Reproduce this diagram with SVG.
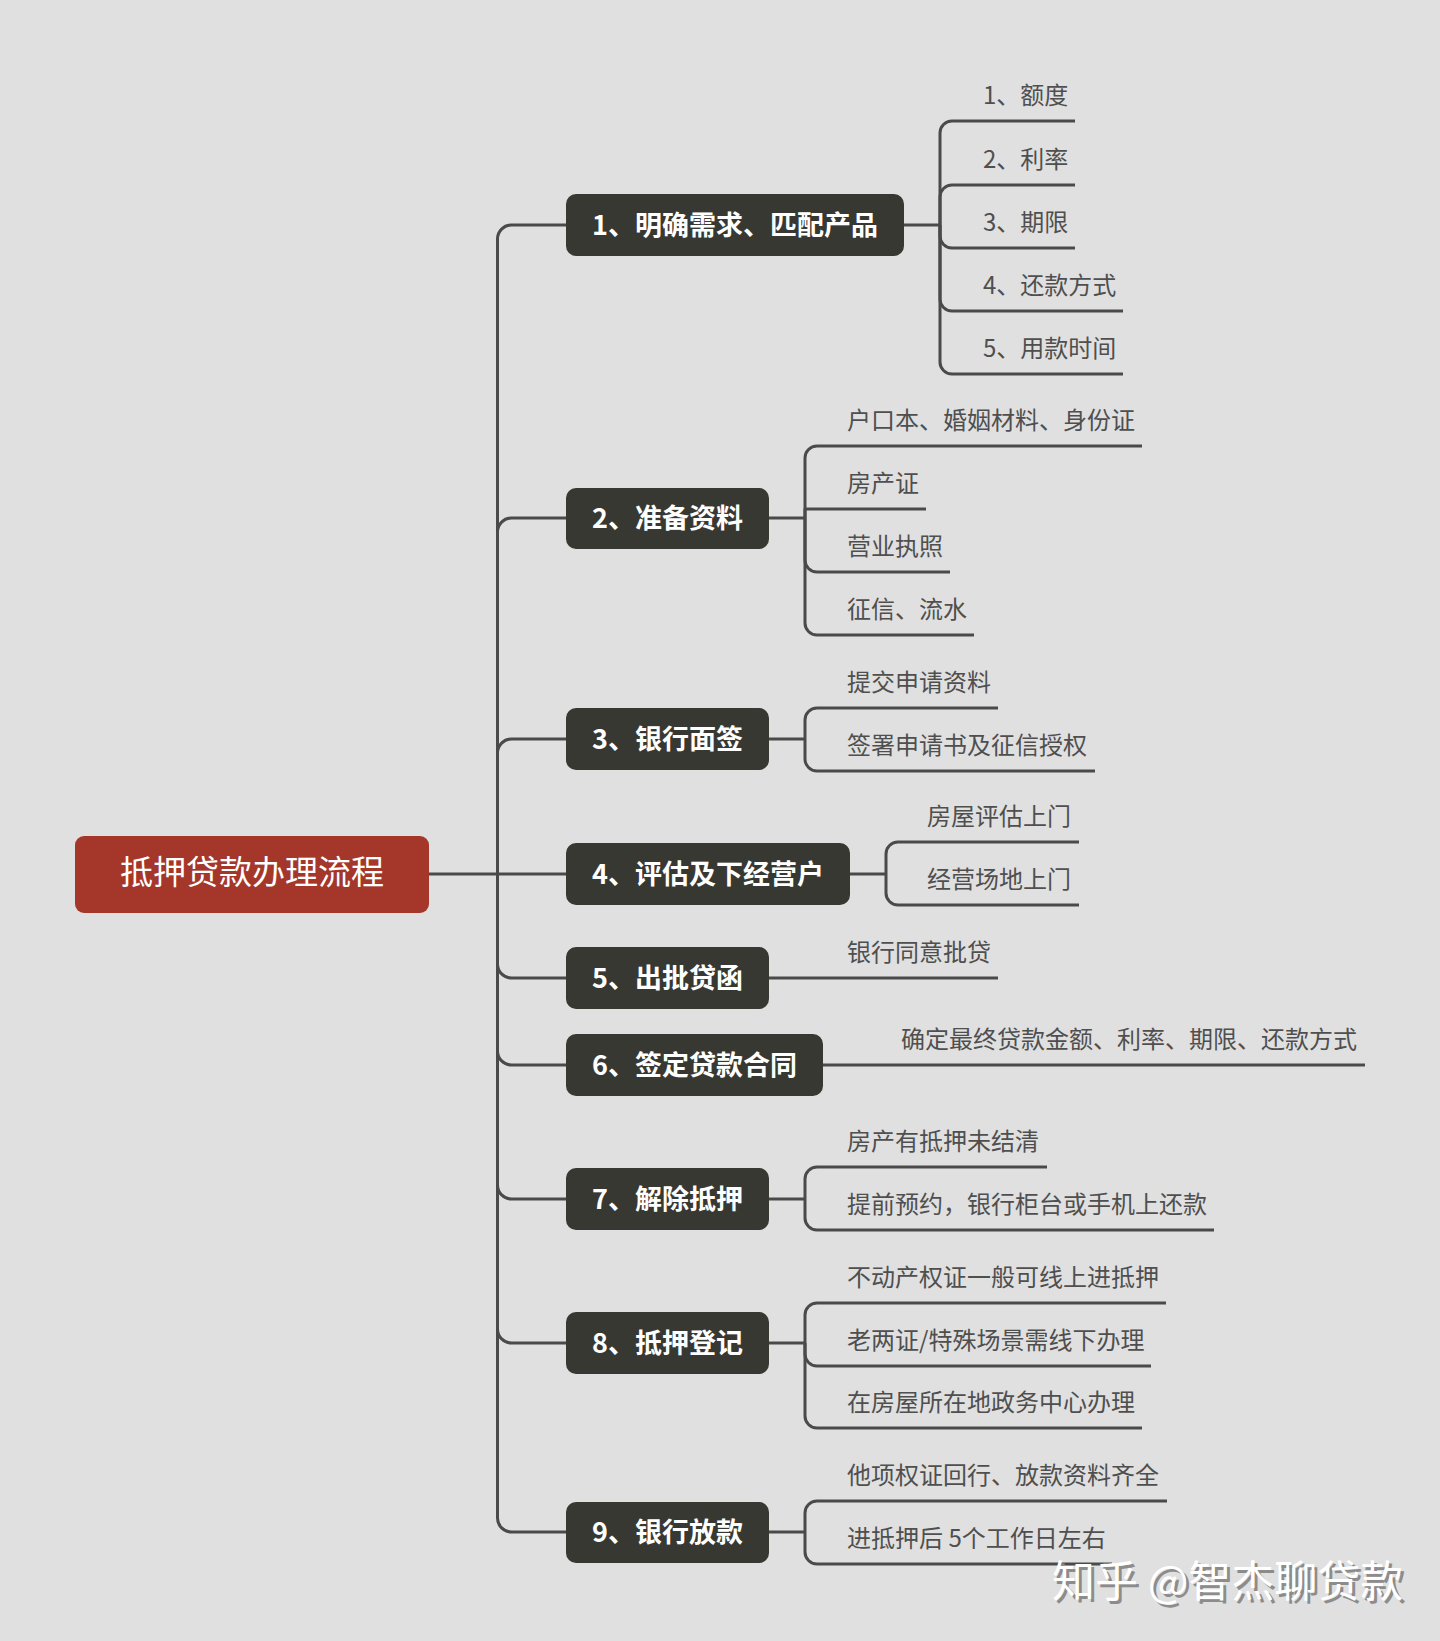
<svg xmlns="http://www.w3.org/2000/svg" width="1440" height="1641" viewBox="0 0 1440 1641">
<style>
.ln{fill:none;stroke:#4a4a4a;stroke-width:3;stroke-linecap:butt;stroke-linejoin:round}
.nd{fill:#383833}
.nt{font-family:"Noto Sans CJK SC","Noto Sans",sans-serif;font-size:27px;font-weight:700;fill:#ffffff;text-anchor:middle}
.ct{font-family:"Noto Sans CJK SC","Noto Sans",sans-serif;font-size:24px;fill:#4f4f4f}
.wm{font-family:"Noto Sans CJK SC","Noto Sans",sans-serif;font-size:43px}
</style>
<rect width="1440" height="1641" fill="#e0e0e0"/>
<g id="connectors">
<path class="ln" d="M429 874 H566"/>
<path class="ln" d="M566 225 H511.5 A14 14 0 0 0 497.5 239 V1518 A14 14 0 0 0 511.5 1532 H566"/>
<path class="ln" d="M497.5 532 A14 14 0 0 1 511.5 518 H566"/>
<path class="ln" d="M497.5 753 A14 14 0 0 1 511.5 739 H566"/>
<path class="ln" d="M497.5 964 A14 14 0 0 0 511.5 978 H566"/>
<path class="ln" d="M497.5 1051 A14 14 0 0 0 511.5 1065 H566"/>
<path class="ln" d="M497.5 1185 A14 14 0 0 0 511.5 1199 H566"/>
<path class="ln" d="M497.5 1329 A14 14 0 0 0 511.5 1343 H566"/>
<!-- node 1 children -->
<path class="ln" d="M904 225 H940"/>
<path class="ln" d="M940 225 V133 A12 12 0 0 1 952 121 H1075"/>
<path class="ln" d="M940 225 V197 A12 12 0 0 1 952 185 H1075"/>
<path class="ln" d="M940 225 V236 A12 12 0 0 0 952 248 H1075"/>
<path class="ln" d="M940 225 V299 A12 12 0 0 0 952 311 H1123"/>
<path class="ln" d="M940 225 V362 A12 12 0 0 0 952 374 H1123"/>
<!-- node 2 children -->
<path class="ln" d="M769 518 H805"/>
<path class="ln" d="M805 518 V458 A12 12 0 0 1 817 446 H1142"/>
<path class="ln" d="M805 518 V509 H926"/>
<path class="ln" d="M805 518 V560 A12 12 0 0 0 817 572 H950"/>
<path class="ln" d="M805 518 V623 A12 12 0 0 0 817 635 H974"/>
<!-- node 3 children -->
<path class="ln" d="M769 739 H805"/>
<path class="ln" d="M805 739 V720 A12 12 0 0 1 817 708 H998"/>
<path class="ln" d="M805 739 V759 A12 12 0 0 0 817 771 H1095"/>
<!-- node 4 children -->
<path class="ln" d="M850 874 H886"/>
<path class="ln" d="M886 874 V854 A12 12 0 0 1 898 842 H1079"/>
<path class="ln" d="M886 874 V893 A12 12 0 0 0 898 905 H1079"/>
<!-- node 5 child -->
<path class="ln" d="M769 978 H998"/>
<!-- node 6 child -->
<path class="ln" d="M823 1065 H1365"/>
<!-- node 7 children -->
<path class="ln" d="M769 1199 H805"/>
<path class="ln" d="M805 1199 V1179 A12 12 0 0 1 817 1167 H1047"/>
<path class="ln" d="M805 1199 V1218 A12 12 0 0 0 817 1230 H1214"/>
<!-- node 8 children -->
<path class="ln" d="M769 1343 H805"/>
<path class="ln" d="M805 1343 V1315 A12 12 0 0 1 817 1303 H1166"/>
<path class="ln" d="M805 1343 V1354 A12 12 0 0 0 817 1366 H1151"/>
<path class="ln" d="M805 1343 V1416 A12 12 0 0 0 817 1428 H1142"/>
<!-- node 9 children -->
<path class="ln" d="M769 1532 H805"/>
<path class="ln" d="M805 1532 V1513 A12 12 0 0 1 817 1501 H1167"/>
<path class="ln" d="M805 1532 V1552 A12 12 0 0 0 817 1564 H1112"/>
</g>
<g id="root">
<rect x="75" y="836" width="354" height="77" rx="9" fill="#a5372a"/>
<text x="252" y="884" font-family="Noto Sans CJK SC, Noto Sans, sans-serif" font-size="33" fill="#ffffff" text-anchor="middle">抵押贷款办理流程</text>
</g>
<g id="n1"><rect class="nd" x="566" y="194" width="338" height="62" rx="10"/><text class="nt" x="735" y="234.5">1、明确需求、匹配产品</text></g>
<g id="n2"><rect class="nd" x="566" y="488" width="203" height="61" rx="10"/><text class="nt" x="667.5" y="527.5">2、准备资料</text></g>
<g id="n3"><rect class="nd" x="566" y="708" width="203" height="62" rx="10"/><text class="nt" x="667.5" y="748.5">3、银行面签</text></g>
<g id="n4"><rect class="nd" x="566" y="843" width="284" height="62" rx="10"/><text class="nt" x="708" y="883.5">4、评估及下经营户</text></g>
<g id="n5"><rect class="nd" x="566" y="947" width="203" height="62" rx="10"/><text class="nt" x="667.5" y="987.5">5、出批贷函</text></g>
<g id="n6"><rect class="nd" x="566" y="1034" width="257" height="62" rx="10"/><text class="nt" x="694.5" y="1074.5">6、签定贷款合同</text></g>
<g id="n7"><rect class="nd" x="566" y="1168" width="203" height="62" rx="10"/><text class="nt" x="667.5" y="1208.5">7、解除抵押</text></g>
<g id="n8"><rect class="nd" x="566" y="1312" width="203" height="62" rx="10"/><text class="nt" x="667.5" y="1352.5">8、抵押登记</text></g>
<g id="n9"><rect class="nd" x="566" y="1502" width="203" height="61" rx="10"/><text class="nt" x="667.5" y="1541.5">9、银行放款</text></g>
<g id="n1-children">
<text class="ct" x="983" y="104">1、额度</text>
<text class="ct" x="983" y="168">2、利率</text>
<text class="ct" x="983" y="231">3、期限</text>
<text class="ct" x="983" y="294">4、还款方式</text>
<text class="ct" x="983" y="357">5、用款时间</text>
</g>
<g id="n2-children">
<text class="ct" x="847" y="429">户口本、婚姻材料、身份证</text>
<text class="ct" x="847" y="492">房产证</text>
<text class="ct" x="847" y="555">营业执照</text>
<text class="ct" x="847" y="618">征信、流水</text>
</g>
<g id="n3-children">
<text class="ct" x="847" y="691">提交申请资料</text>
<text class="ct" x="847" y="754">签署申请书及征信授权</text>
</g>
<g id="n4-children">
<text class="ct" x="927" y="825">房屋评估上门</text>
<text class="ct" x="927" y="888">经营场地上门</text>
</g>
<g id="n5-children">
<text class="ct" x="847" y="961">银行同意批贷</text>
</g>
<g id="n6-children">
<text class="ct" x="901" y="1048">确定最终贷款金额、利率、期限、还款方式</text>
</g>
<g id="n7-children">
<text class="ct" x="847" y="1150">房产有抵押未结清</text>
<text class="ct" x="847" y="1213">提前预约，银行柜台或手机上还款</text>
</g>
<g id="n8-children">
<text class="ct" x="847" y="1286">不动产权证一般可线上进抵押</text>
<text class="ct" x="847" y="1349">老两证/特殊场景需线下办理</text>
<text class="ct" x="847" y="1411">在房屋所在地政务中心办理</text>
</g>
<g id="n9-children">
<text class="ct" x="847" y="1484">他项权证回行、放款资料齐全</text>
<text class="ct" x="847" y="1547">进抵押后 5个工作日左右</text>
</g>
<g id="watermark">
<text class="wm" x="1055" y="1600" fill="#8c8c8c">知乎 @智杰聊贷款</text>
<text class="wm" x="1052" y="1597" fill="#ffffff">知乎 @智杰聊贷款</text>
</g>
</svg>
